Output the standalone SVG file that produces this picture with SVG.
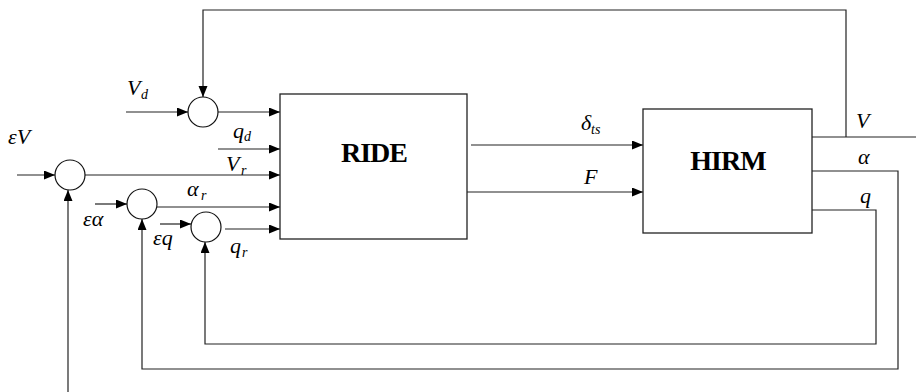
<svg xmlns="http://www.w3.org/2000/svg" width="916" height="392" viewBox="0 0 916 392">
<style>
.ln{fill:none;stroke:#222;stroke-width:1.2}
.ar{fill:none;stroke:#222;stroke-width:1.2;marker-end:url(#ah)}
.box{fill:#fff;stroke:#222;stroke-width:1.3}
.sum{fill:#fff;stroke:#111;stroke-width:1.2}
.t{font-family:"Liberation Serif",serif;font-style:italic;font-size:22px;fill:#000}
.s{font-family:"Liberation Serif",serif;font-style:italic;font-size:14px;fill:#000}
.b{font-family:"Liberation Serif",serif;font-weight:bold;font-size:28px;fill:#000;letter-spacing:-1px}
</style>
<defs>
<marker id="ah" markerUnits="userSpaceOnUse" markerWidth="12" markerHeight="10" refX="11" refY="4.5" orient="auto">
<path d="M0,0 L11,4.5 L0,9 Z" fill="#000"/>
</marker>
</defs>
<rect width="916" height="392" fill="#fff"/>
<g id="connectors">
<polyline class="ar" points="846,137 846,10 203,10 203,97"/>
<line class="ar" x1="126" y1="112" x2="188" y2="112"/>
<line class="ar" x1="218" y1="112" x2="280" y2="112"/>
<line class="ar" x1="218" y1="149" x2="280" y2="149"/>
<line class="ar" x1="85" y1="175" x2="280" y2="175"/>
<line class="ar" x1="157" y1="207" x2="280" y2="207"/>
<line class="ar" x1="225" y1="229" x2="280" y2="229"/>
<line class="ar" x1="17" y1="175" x2="55" y2="175"/>
<line class="ar" x1="68" y1="392" x2="68" y2="190"/>
<line class="ar" x1="95" y1="204" x2="127" y2="204"/>
<polyline class="ar" points="812,171 898,171 898,369 142,369 142,219"/>
<line class="ar" x1="160" y1="224" x2="191" y2="224"/>
<polyline class="ar" points="812,210 876,210 876,344 205,344 205,242"/>
<line class="ar" x1="471" y1="145" x2="643" y2="145"/>
<line class="ar" x1="467" y1="192" x2="643" y2="192"/>
<line class="ln" x1="812" y1="137" x2="916" y2="137"/>
</g>
<g id="sum-vd"><circle class="sum" cx="203" cy="112" r="15"/></g>
<g id="sum-v"><circle class="sum" cx="70" cy="175" r="15"/></g>
<g id="sum-alpha"><circle class="sum" cx="142" cy="204" r="15"/></g>
<g id="sum-q"><circle class="sum" cx="206" cy="227" r="15"/></g>
<g id="ride">
<rect class="box" x="280" y="94" width="187" height="145"/>
<text class="b" x="374" y="162" text-anchor="middle">RIDE</text>
</g>
<g id="hirm">
<rect class="box" x="643" y="109" width="169" height="124"/>
<text class="b" x="728" y="170" text-anchor="middle">HIRM</text>
</g>
<g id="labels">
<text class="t" x="127" y="95">V</text><text class="s" x="141" y="99">d</text>
<text class="t" x="8" y="144">εV</text>
<text class="t" x="233" y="138">q</text><text class="s" x="244" y="141">d</text>
<text class="t" x="226" y="171">V</text><text class="s" x="241" y="175">r</text>
<text class="t" x="187" y="196">α</text><text class="s" x="201" y="200">r</text>
<text class="t" x="83" y="226">εα</text>
<text class="t" x="153" y="245">εq</text>
<text class="t" x="230" y="253">q</text><text class="s" x="242" y="257">r</text>
<text class="t" x="581" y="130">δ</text><text class="s" x="591" y="134">ts</text>
<text class="t" x="584" y="184">F</text>
<text class="t" x="856" y="128">V</text>
<text class="t" x="858" y="164">α</text>
<text class="t" x="860" y="203">q</text>
</g>
</svg>
